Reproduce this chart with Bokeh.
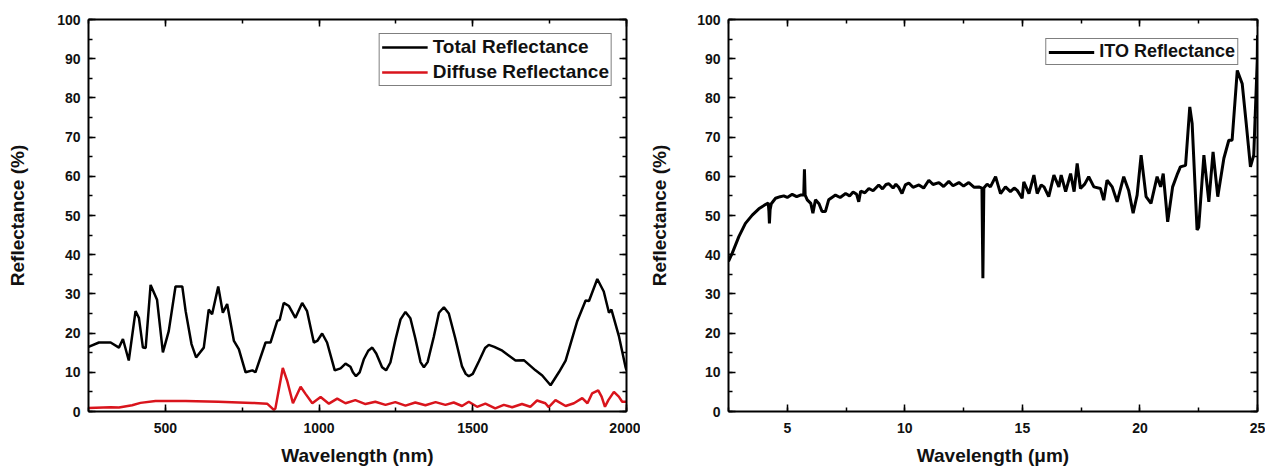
from bokeh.plotting import figure
from bokeh.layouts import row
from bokeh.models import (SingleIntervalTicker, LinearAxis, Range1d, Legend,
                          LegendItem, CustomJSTickFormatter)
from bokeh.embed import file_html
from bokeh.resources import INLINE

# ---------------- data: left panel (nm) ----------------
total_x = [250, 284, 322, 349, 362, 381, 403, 414, 427, 436, 452, 473, 492, 511,
           533, 555, 566, 585, 600, 625, 641, 652, 672, 687, 701, 723, 739, 761,
           783, 793, 826, 842, 864, 872, 885, 902, 923, 945, 961, 983, 994, 1010,
           1026, 1051, 1070, 1086, 1102, 1110, 1120, 1132, 1146, 1160, 1173, 1186,
           1205, 1218, 1232, 1249, 1265, 1281, 1297, 1313, 1330, 1341, 1353, 1373,
           1390, 1406, 1422, 1443, 1465, 1477, 1487, 1500, 1520, 1540, 1552, 1570,
           1596, 1639, 1666, 1704, 1726, 1753, 1780, 1802, 1840, 1867, 1878, 1905,
           1926, 1943, 1951, 1975, 1997, 2000]
total_y = [16.5, 17.6, 17.6, 16.3, 18.5, 13.0, 25.6, 23.9, 16.3, 16.2, 32.3, 28.5,
           15.1, 20.5, 31.9, 31.9, 25.6, 17.2, 13.8, 16.3, 26.0, 24.8, 31.9, 25.2,
           27.4, 18.0, 15.9, 10.0, 10.5, 10.0, 17.6, 17.6, 23.1, 23.4, 27.7, 26.9,
           23.9, 27.7, 25.6, 17.6, 18.0, 19.9, 17.6, 10.5, 11.0, 12.2, 11.4, 10.0,
           9.0, 10.0, 13.4, 15.5, 16.3, 14.8, 11.3, 10.5, 12.5, 18.5, 23.5, 25.4,
           23.8, 18.7, 12.6, 11.3, 12.6, 19.0, 25.2, 26.6, 25.0, 18.7, 11.5, 9.6,
           9.0, 9.6, 12.8, 16.2, 17.0, 16.5, 15.5, 13.0, 13.1, 10.5, 9.2, 6.7, 10.0,
           13.0, 23.1, 28.3, 28.2, 33.8, 30.6, 25.2, 26.0, 19.3, 11.3, 10.5]

diffuse_x = [250, 322, 349, 392, 419, 468, 566, 672, 783, 831, 853, 858, 882, 896,
             915, 940, 956, 978, 1005, 1032, 1059, 1086, 1118, 1151, 1183, 1216,
             1248, 1281, 1313, 1346, 1379, 1411, 1438, 1465, 1487, 1514, 1541, 1573,
             1601, 1628, 1660, 1687, 1709, 1736, 1747, 1769, 1802, 1829, 1856, 1873,
             1888, 1908, 1919, 1930, 1941, 1959, 1975, 1986, 2000]
diffuse_y = [0.9, 1.1, 1.0, 1.6, 2.2, 2.7, 2.7, 2.5, 2.2, 2.0, 0.4, 0.8, 11.1, 7.9,
             2.1, 6.3, 4.5, 2.1, 3.7, 2.0, 3.3, 2.1, 2.9, 1.9, 2.5, 1.7, 2.4, 1.5,
             2.3, 1.6, 2.4, 1.7, 2.3, 1.4, 2.5, 1.2, 2.0, 0.8, 1.7, 1.1, 1.9, 1.2,
             2.8, 2.1, 1.1, 2.9, 1.4, 2.1, 3.4, 2.1, 4.6, 5.4, 3.8, 1.2, 2.9, 5.0,
             3.8, 2.5, 2.5]

# ---------------- data: right panel (um) ----------------
ito_x = [2.50, 2.66, 2.94, 3.22, 3.51, 3.79, 4.07, 4.19, 4.22, 4.24, 4.27, 4.32,
         4.50, 4.70, 4.85, 5.00, 5.21, 5.40, 5.56, 5.70, 5.73, 5.76, 5.85, 6.00,
         6.09, 6.20, 6.35, 6.48, 6.62, 6.76, 6.90, 7.05, 7.25, 7.48, 7.65, 7.80,
         7.95, 8.04, 8.12, 8.30, 8.47, 8.65, 8.89, 9.05, 9.20, 9.32, 9.50, 9.62,
         9.74, 9.88, 10.02, 10.17, 10.35, 10.60, 10.80, 11.02, 11.20, 11.45, 11.65,
         11.87, 12.05, 12.30, 12.50, 12.72, 12.95, 13.15, 13.28, 13.32, 13.36,
         13.50, 13.64, 13.86, 14.07, 14.28, 14.49, 14.65, 14.78, 14.99, 15.06,
         15.28, 15.49, 15.63, 15.80, 15.92, 16.12, 16.34, 16.55, 16.65, 16.84,
         17.05, 17.20, 17.33, 17.47, 17.65, 17.82, 18.04, 18.32, 18.46, 18.60,
         18.82, 19.03, 19.31, 19.52, 19.71, 19.88, 20.05, 20.26, 20.47, 20.73,
         20.88, 20.99, 21.18, 21.39, 21.60, 21.72, 21.94, 22.12, 22.22, 22.43,
         22.50, 22.72, 22.93, 23.11, 23.31, 23.57, 23.78, 23.92, 24.14, 24.35,
         24.52, 24.70, 24.84, 24.99, 25.00]
ito_y = [38.3, 40.4, 44.6, 48.0, 50.1, 51.7, 52.8, 53.2, 51.0, 48.0, 51.5, 53.0,
         54.4, 54.8, 55.0, 54.6, 55.4, 54.8, 55.2, 55.2, 61.8, 55.2, 54.0, 53.1,
         50.6, 54.0, 53.0, 51.0, 51.0, 54.0, 54.6, 55.2, 54.6, 55.6, 55.0, 56.0,
         55.4, 53.5, 56.2, 55.8, 56.9, 56.3, 57.8, 56.8, 57.9, 58.1, 57.0, 58.0,
         57.2, 55.6, 57.8, 58.3, 57.2, 57.8, 57.0, 59.0, 57.9, 58.4, 57.4, 58.7,
         57.6, 58.4, 57.5, 58.4, 57.2, 57.3, 57.0, 34.0, 57.0, 58.0, 57.3, 59.9,
         55.6, 57.3, 56.1, 57.0, 56.4, 54.4, 58.6, 55.6, 60.3, 55.6, 57.8, 57.3,
         54.8, 60.3, 57.3, 60.3, 56.1, 60.7, 56.1, 63.3, 56.9, 58.0, 59.9, 57.3,
         56.9, 53.9, 59.0, 57.3, 53.5, 59.9, 56.4, 50.6, 55.2, 65.4, 54.8, 53.1,
         59.9, 57.3, 60.7, 48.4, 57.3, 60.7, 62.4, 62.8, 77.7, 73.5, 46.3, 47.0,
         65.4, 53.5, 66.2, 54.8, 64.6, 69.2, 69.2, 87.0, 83.6, 73.5, 62.4, 65.4,
         89.6, 96.0]

FONT = "Liberation Sans"
RED = "#d9141c"
HEIGHT = 471


def style_axis(ax, labels=True):
    ax.axis_line_width = 2
    ax.axis_line_color = "black"
    ax.major_tick_in = 7
    ax.major_tick_out = 0
    ax.minor_tick_in = 4
    ax.minor_tick_out = 0
    ax.major_tick_line_width = 1.5
    ax.minor_tick_line_width = 1.5
    ax.major_tick_line_color = "black"
    ax.minor_tick_line_color = "black"
    if labels:
        ax.major_label_text_font = FONT
        ax.major_label_text_font_style = "bold"
        ax.major_label_text_font_size = "14px"
        ax.major_label_text_color = "#111111"
        ax.axis_label_text_font = FONT
        ax.axis_label_text_font_style = "bold"
        ax.axis_label_text_font_size = "19px"
        ax.axis_label_text_color = "#111111"
    else:
        ax.formatter = CustomJSTickFormatter(code="return ''")
        ax.major_label_text_font_size = "0px"
        ax.major_label_standoff = 0


def make_fig(width, xr, xint, xlabel, borders, ylab_standoff):
    bl, br, bt, bb = borders
    p = figure(width=width, height=HEIGHT, x_range=Range1d(*xr), y_range=Range1d(0, 100),
               output_backend="svg", toolbar_location=None,
               min_border_left=bl, min_border_right=br, min_border_top=bt,
               min_border_bottom=bb)
    p.xgrid.visible = False
    p.ygrid.visible = False
    p.outline_line_color = None
    p.xaxis.ticker = SingleIntervalTicker(interval=xint, num_minor_ticks=2)
    p.yaxis.ticker = SingleIntervalTicker(interval=10, num_minor_ticks=2)
    p.xaxis.axis_label = xlabel
    p.yaxis.axis_label = "Reflectance (%)"
    for ax in p.xaxis:
        style_axis(ax)
        ax.major_label_standoff = 11
        ax.axis_label_standoff = 9
    for ax in p.yaxis:
        style_axis(ax)
        ax.major_label_standoff = 8
        ax.axis_label_standoff = ylab_standoff
    top = LinearAxis(ticker=SingleIntervalTicker(interval=xint, num_minor_ticks=2))
    right = LinearAxis(ticker=SingleIntervalTicker(interval=10, num_minor_ticks=2))
    style_axis(top, labels=False)
    style_axis(right, labels=False)
    p.add_layout(top, "above")
    p.add_layout(right, "right")
    return p


def style_legend(leg, location, margin, size):
    leg.location = location
    leg.margin = margin
    leg.label_text_font = FONT
    leg.label_text_font_style = "bold"
    leg.label_text_font_size = size
    leg.label_text_color = "#111111"
    leg.border_line_color = "black"
    leg.border_line_width = 1
    leg.padding = 2
    leg.spacing = 3
    leg.glyph_width = 46
    leg.glyph_height = 20
    leg.label_height = 20
    leg.label_standoff = 5
    leg.background_fill_color = "white"
    leg.background_fill_alpha = 1


# left figure: frame x 88..626, y 15..411
p1 = make_fig(640, (250, 2000), 500, "Wavelength (nm)", (88, 14, 15, 60), 26)
r_tot = p1.line(total_x, total_y, line_color="black", line_width=2.5)
r_dif = p1.line(diffuse_x, diffuse_y, line_color=RED, line_width=2.5)
leg1 = Legend(items=[LegendItem(label="Total Reflectance", renderers=[r_tot]),
                     LegendItem(label="Diffuse Reflectance", renderers=[r_dif])])
style_legend(leg1, "top_right", 14, "19px")
p1.add_layout(leg1)

# right figure: frame x 728..1257, y 19..412
p2 = make_fig(625, (2.5, 25), 5, "Wavelength (μm)", (88, 8, 19, 59), 24)
r_ito = p2.line(ito_x, ito_y, line_color="black", line_width=3)
leg2 = Legend(items=[LegendItem(label="ITO Reflectance", renderers=[r_ito])])
style_legend(leg2, "top_right", 19, "18px")
p2.add_layout(leg2)

layout = row(p1, p2)
open("out.html", "w").write(file_html(layout, INLINE))
